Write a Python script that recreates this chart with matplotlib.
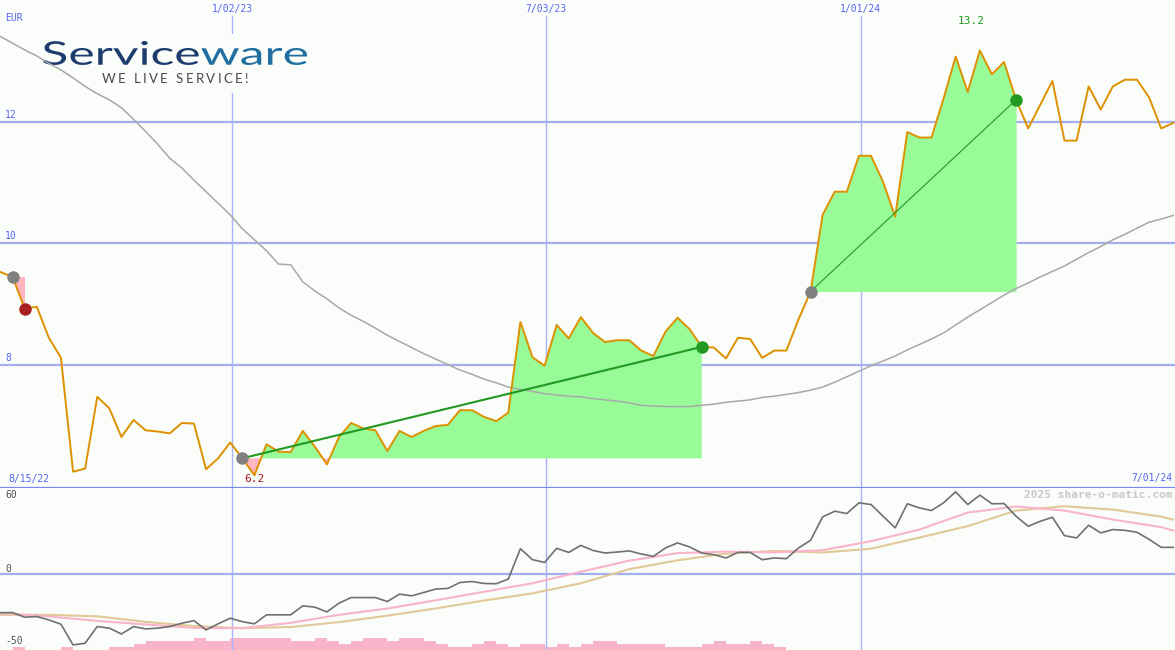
import numpy as np
import pandas as pd
import matplotlib
matplotlib.use('Agg')
import matplotlib.pyplot as plt
import matplotlib.dates as mdates
from matplotlib.patches import Rectangle, PathPatch
from matplotlib.textpath import TextPath, TextToPath
from matplotlib.transforms import Affine2D
from matplotlib.font_manager import FontProperties

# weekly closes (EUR), one point per week
weeks = pd.date_range('2022-08-21', periods=98, freq='7D')
price = [9.53, 9.45, 8.93, 8.96, 8.45, 8.12, 6.25, 6.30, 7.48, 7.29,
         6.82, 7.10, 6.93, 6.91, 6.88, 7.05, 7.04, 6.29, 6.47, 6.73,
         6.47, 6.19, 6.70, 6.58, 6.57, 6.92, 6.66, 6.37, 6.82, 7.05,
         6.96, 6.93, 6.59, 6.92, 6.82, 6.92, 7.00, 7.02, 7.26, 7.26,
         7.15, 7.08, 7.22, 8.71, 8.13, 7.99, 8.66, 8.44, 8.79, 8.53,
         8.38, 8.41, 8.41, 8.24, 8.15, 8.55, 8.78, 8.59, 8.30, 8.29,
         8.11, 8.45, 8.43, 8.12, 8.24, 8.24, 8.75, 9.21, 10.47, 10.85,
         10.85, 11.44, 11.44, 11.01, 10.44, 11.83, 11.74, 11.74, 12.38, 13.07,
         12.49, 13.17, 12.78, 12.98, 12.36, 11.89, 12.28, 12.67, 11.69, 11.69,
         12.58, 12.20, 12.58, 12.69, 12.69, 12.40, 11.89, 11.98]
# long moving average
ma = [13.40, 13.29, 13.18, 13.08, 12.96, 12.85, 12.72, 12.58, 12.46, 12.36,
      12.23, 12.04, 11.84, 11.63, 11.40, 11.24, 11.04, 10.85, 10.66, 10.47,
      10.24, 10.06, 9.88, 9.66, 9.65, 9.37, 9.22, 9.09, 8.94, 8.82,
      8.72, 8.61, 8.49, 8.39, 8.29, 8.19, 8.10, 8.01, 7.92, 7.85,
      7.77, 7.71, 7.64, 7.60, 7.57, 7.53, 7.51, 7.49, 7.48, 7.45,
      7.43, 7.41, 7.38, 7.34, 7.33, 7.32, 7.32, 7.32, 7.34, 7.36,
      7.39, 7.41, 7.43, 7.47, 7.49, 7.52, 7.55, 7.59, 7.64, 7.72,
      7.81, 7.90, 7.99, 8.07, 8.15, 8.25, 8.34, 8.43, 8.53, 8.66,
      8.79, 8.91, 9.03, 9.15, 9.26, 9.35, 9.45, 9.54, 9.63, 9.74,
      9.85, 9.95, 10.06, 10.15, 10.25, 10.35, 10.40, 10.46]
# oscillator panel
momentum = [-31.1, -31.1, -34.8, -34.3, -37.0, -40.5, -57.3, -55.9, -42.4, -43.7,
            -48.4, -42.4, -44.3, -43.7, -42.4, -39.7, -37.6, -45.1, -40.2, -35.6,
            -38.4, -40.2, -32.9, -32.9, -32.9, -25.6, -26.7, -30.5, -23.4, -18.9,
            -18.9, -18.9, -22.1, -16.1, -17.5, -14.8, -12.0, -11.5, -6.7, -5.9,
            -7.5, -7.7, -3.9, 20.7, 11.8, 9.6, 21.0, 17.7, 23.4, 19.3,
            17.2, 18.0, 18.9, 16.4, 14.5, 21.3, 25.4, 22.1, 17.2, 15.9,
            13.2, 17.7, 17.7, 11.8, 13.2, 12.6, 21.3, 27.5, 46.5, 51.1,
            49.2, 57.9, 56.5, 47.0, 37.6, 57.1, 53.8, 51.6, 57.9, 66.8,
            56.5, 64.1, 57.1, 57.3, 47.0, 38.9, 42.9, 46.2, 31.3, 29.4,
            39.7, 33.5, 36.2, 35.6, 34.0, 28.3, 21.8, 21.8]
vol_level = [0, 1, 0, 0, 0, 1, 0, 0, 0, 1,
             1, 2, 3, 3, 3, 3, 4, 3, 3, 4,
             4, 4, 4, 4, 3, 3, 4, 3, 2, 3,
             4, 4, 3, 4, 4, 3, 2, 1, 1, 2,
             3, 2, 1, 2, 2, 1, 2, 1, 2, 3,
             3, 2, 2, 2, 2, 1, 1, 1, 2, 3,
             2, 2, 3, 2, 1] + [0] * 33
slow_idx = [0, 4, 8, 12, 16, 20, 24, 28, 32, 36, 40, 44, 48, 52, 56,
            60, 64, 68, 72, 76, 80, 84, 88, 92, 96, 97]
signal_pink = [-31.5, -34.2, -37.8, -40.7, -43.5, -43.7, -39.4, -32.9, -27.8, -21.1,
               -14.2, -7.3, 2.0, 11.0, 17.1, 18.3, 17.7, 19.5, 26.8, 36.2,
               50.0, 54.9, 51.6, 44.3, 38.2, 35.4]
signal_tan = [-32.9, -32.9, -34.1, -38.6, -42.0, -43.7, -42.8, -38.8, -33.6, -27.7,
              -21.3, -15.5, -7.3, 4.1, 11.3, 16.7, 18.9, 17.6, 20.7, 29.7,
              39.0, 51.6, 55.1, 52.4, 46.7, 44.3]
# trades: entry / exit week index
trade_in = [1, 20, 67]
trade_out = [2, 58, 84]
grid_dates = pd.to_datetime(['2023-01-02', '2023-07-03', '2024-01-01'])
price_ticks = [8, 10, 12]

W, H = 1175, 650
bg = '#fafdfa'
blue = '#5566ee'
hgrid = '#a4aef0'
vgrid = '#aab4f8'

fig = plt.figure(figsize=(W / 100, H / 100), dpi=100, facecolor=bg)
ax = fig.add_axes([0, 0.25, 1, 0.75], facecolor=bg)
ax2 = fig.add_axes([0, 0, 1, 0.25], facecolor=bg)
top_h = 0.75 * H

x = mdates.date2num(weeks)
left = mdates.date2num(pd.Timestamp('2022-08-21')) - 0.3
right = mdates.date2num(pd.Timestamp('2024-07-01'))
for a in (ax, ax2):
    a.set_xlim(left, right)
    a.set_xticks([])
    a.set_yticks([])
    for s in a.spines.values():
        s.set_visible(False)
ax.set_ylim(5.99, 14.0)
ax2.set_ylim(-61.4, 70.3)
ax.spines['bottom'].set_visible(True)
ax.spines['bottom'].set_color('#7a88ee')
ax.spines['bottom'].set_linewidth(1.6)
ax.spines['bottom'].set_zorder(6)

mono = 'DejaVu Sans Mono'

# grid
for t in price_ticks:
    ax.axhline(t, color=hgrid, lw=1.6, zorder=1)
    ax.annotate(str(t), (0, t), xycoords=('axes fraction', 'data'), xytext=(5, 2),
                textcoords='offset pixels', fontsize=7, family=mono, color=blue,
                va='bottom', ha='left')
for d in grid_dates:
    ax.axvline(d, ymin=0, ymax=1 - 16 / top_h, color=vgrid, lw=1, zorder=1)
    ax2.axvline(d, color=vgrid, lw=1, zorder=1)
    ax.text(d, 1 - 9 / top_h, f"{d.month}/{d.day:02d}/{d:%y}", transform=ax.get_xaxis_transform(),
            ha='center', va='center', fontsize=7, family=mono, color=blue)
ax2.axhline(0, color=hgrid, lw=1.6, zorder=1)

ax.text(5 / W, 1 - 18 / top_h, 'EUR', transform=ax.transAxes, fontsize=7, family=mono,
        color=blue, va='center', ha='left')
ax.text(8 / W, 1 - 479 / top_h, f"{weeks[0] - pd.Timedelta(days=6):%-m/%d/%y}",
        transform=ax.transAxes, fontsize=7, family=mono, color=blue, va='center', ha='left')
ax.text(1 - 3 / W, 1 - 478 / top_h, '7/01/24', transform=ax.transAxes, fontsize=7,
        family=mono, color=blue, va='center', ha='right')

# logo (pixel placement, text drawn as paths so it can be fitted to its box)
ax.add_patch(Rectangle((40 / W, 1 - 93 / top_h), 272 / W, 59 / top_h, transform=ax.transAxes,
                       facecolor=bg, edgecolor='none', zorder=1.5))
fp = FontProperties(family='Lato')
full = TextPath((0, 0), 'Serviceware', size=50, prop=fp)
p1 = TextPath((0, 0), 'Service', size=50, prop=fp)
p2 = TextPath((0, 0), 'ware', size=50, prop=fp)
e, e2 = full.get_extents(), p2.get_extents()
sx = (307 - 43) / e.width
sy = (65 - 41) / e.height
tr = Affine2D().translate(-e.x0, -e.y0).scale(sx, sy).translate(43, H - 65)
ax.add_patch(PathPatch(p1, transform=tr, facecolor='#1d3c6e', lw=0, zorder=1.6))
ax.add_patch(PathPatch(p2, transform=Affine2D().translate(e.x1 - e2.x1, 0) + tr,
                       facecolor='#216ea0', lw=0, zorder=1.6))

tag = 'WE LIVE SERVICE!'
tag_fp = FontProperties(family='Lato', size=9.5)
t2p = TextToPath()
tag_w = t2p.get_text_width_height_descent(tag, tag_fp, False)[0] * 100 / 72
track = (248 - 102 - tag_w) / (len(tag) - 1)
for k, ch in enumerate(tag):
    xk = 102 + t2p.get_text_width_height_descent(tag[:k], tag_fp, False)[0] * 100 / 72 + k * track if k else 102
    ax.text(xk / W, 1 - 83 / top_h, ch, transform=ax.transAxes, fontproperties=tag_fp,
            color='#474747', va='baseline', ha='left', zorder=1.6)

# trade fills
price_a = np.array(price)
for a_i, b_i in zip(trade_in, trade_out):
    xs = x[a_i:b_i + 1]
    ys = price_a[a_i:b_i + 1]
    base = price_a[a_i]
    ax.fill_between(xs, base, ys, where=ys >= base, interpolate=True,
                    color='#98fb98', lw=0, zorder=2)
    ax.fill_between(xs, base, ys, where=ys < base, interpolate=True,
                    color='#ffb6c1', lw=0, zorder=2)

ax.plot(x, ma, color='#a8a8a8', lw=1.1, zorder=3)
ax.plot(x, price, color='#dd9100', lw=1.4, zorder=4)

line_w = [0, 1.5, 0.8]
for (a_i, b_i), lw in zip(zip(trade_in, trade_out), line_w):
    win = price[b_i] > price[a_i]
    if lw:
        ax.plot([x[a_i], x[b_i]], [price[a_i], price[b_i]], color='#229922', lw=lw, zorder=5)
    ax.plot(x[a_i], price[a_i], 'o', color='#808080', ms=9, mew=0, zorder=5)
    ax.plot(x[b_i], price[b_i], 'o', color='#229922' if win else '#a82020', ms=9, mew=0, zorder=5)

i_min = int(np.argmin(price_a))
i_max = int(np.argmax(price_a))
ax.text(x[i_min], 1 - 479 / top_h, f"{price_a[i_min]:.1f}", transform=ax.get_xaxis_transform(),
        ha='center', va='center', fontsize=8, family=mono, color='#a01818')
ax.text(x[i_max] - 5, 1 - 21 / top_h, f"{price_a[i_max]:.1f}", transform=ax.get_xaxis_transform(),
        ha='center', va='center', fontsize=8, family=mono, color='#229922')

# lower panel
axv = ax2.twinx()
axv.set_ylim(0, 54)
axv.set_yticks([])
for s in axv.spines.values():
    s.set_visible(False)
axv.bar(x, vol_level, width=7, align='edge', color='#f8b4c8', lw=0, zorder=2)
ax2.set_zorder(axv.get_zorder() + 1)
ax2.patch.set_visible(False)
axv.patch.set_facecolor(bg)
axv.patch.set_visible(True)
xs_slow = x[slow_idx]
ax2.plot(xs_slow, signal_tan, color='#e2c998', lw=1.5, zorder=3)
ax2.plot(xs_slow, signal_pink, color='#f8b4c8', lw=1.5, zorder=3)
ax2.plot(x, momentum, color='#707070', lw=1.2, zorder=4)

lab_col = '#555555'
ax2.text(5 / W, 1 - 8 / (0.25 * H), '60', transform=ax2.transAxes, fontsize=7, family=mono,
         color=lab_col, va='center')
ax2.text(5 / W, 1 - 81 / (0.25 * H), '0', transform=ax2.transAxes, fontsize=7, family=mono,
         color=lab_col, va='center')
ax2.text(5 / W, 1 - 154 / (0.25 * H), '-50', transform=ax2.transAxes, fontsize=7, family=mono,
         color=lab_col, va='center')
ax2.text(1 - 3 / W, 1 - 8 / (0.25 * H), '2025 share-o-matic.com', transform=ax2.transAxes,
         fontsize=8, family=mono, weight='bold', color='#c8c8c8', va='center', ha='right')

fig.savefig('out.png', dpi=100, facecolor=bg)
